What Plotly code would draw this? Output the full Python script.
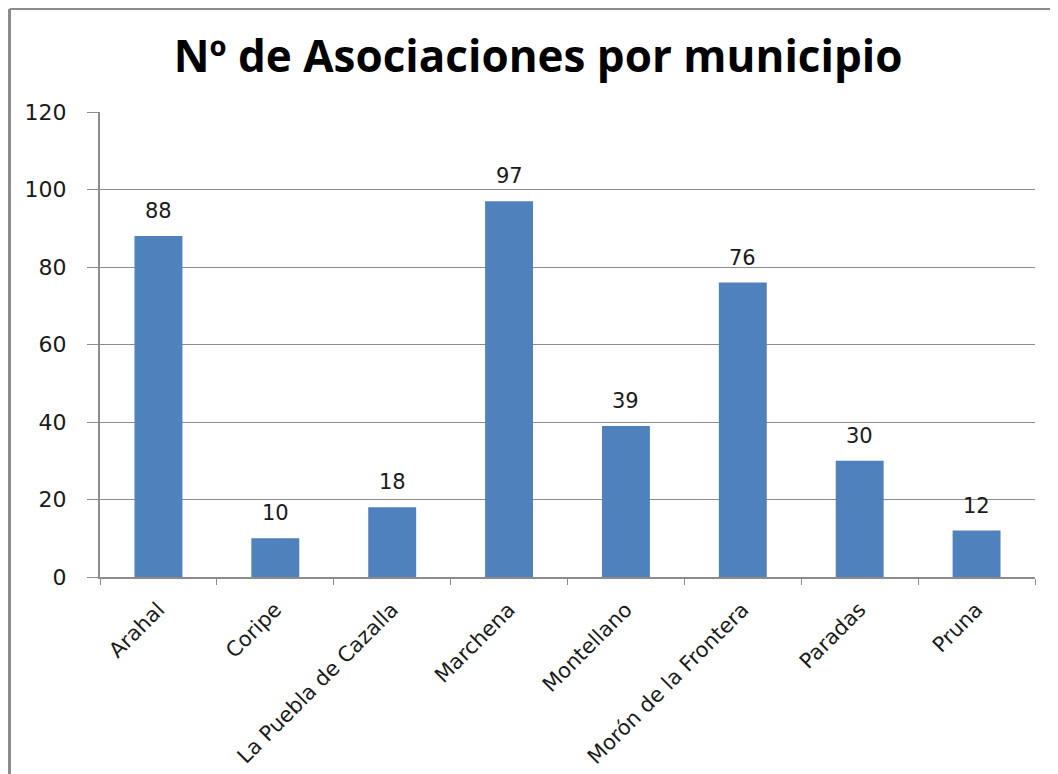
import plotly.graph_objects as go

categories = ["Arahal", "Coripe", "La Puebla de Cazalla", "Marchena", "Montellano",
              "Morón de la Frontera", "Paradas", "Pruna"]
values = [88, 10, 18, 97, 39, 76, 30, 12]
y_ticks = [0, 20, 40, 60, 80, 100, 120]

title_text = "Nº de Asociaciones por municipio"

W, H = 1058, 774
ML, MR, MT, MB = 92, 31, 104, 205
PW, PH = W - ML - MR, H - MT - MB

fig = go.Figure()
fig.add_trace(go.Bar(
    x=categories, y=values,
    marker=dict(color="#4F81BD", line=dict(width=0)),
    hoverinfo="x+y",
))

for c, v in zip(categories, values):
    fig.add_annotation(x=c, y=v, text=str(v), showarrow=False, yshift=25,
                       font=dict(family="DejaVu Sans, sans-serif", size=21, color="#1a1a1a"))

fig.update_layout(
    width=W, height=H,
    paper_bgcolor="white", plot_bgcolor="white",
    margin=dict(l=ML, r=MR, t=MT, b=MB, autoexpand=False),
    bargap=0.59,
    showlegend=False,
    title=dict(text="<b>" + title_text + "</b>", x=0.501, xanchor="center",
               y=0.937, yanchor="middle",
               font=dict(family="Open Sans, sans-serif", size=44, color="black")),
    font=dict(family="DejaVu Sans, sans-serif", size=22, color="#1a1a1a"),
)

fig.update_yaxes(
    range=[0, 120], tickvals=y_ticks, showgrid=True, gridcolor="#8c8c8c", gridwidth=1,
    showline=True, linecolor="#8c8c8c", linewidth=2,
    ticks="outside", ticklen=11, tickcolor="#8c8c8c", tickwidth=1,
    tickfont=dict(size=22), zeroline=False, ticklabelstandoff=16,
)
fig.update_xaxes(
    showline=True, linecolor="#8c8c8c", linewidth=2,
    ticks="outside", ticklen=6, tickcolor="#8c8c8c", tickson="boundaries",
    tickangle=-45, tickfont=dict(size=21), ticklabelstandoff=10,
)

# outer chart frame (left and top edges visible)
fx = -(ML - 1.5) / PW
fy = 1 + (MT - 1) / PH
fig.add_shape(type="line", xref="paper", yref="paper", x0=fx, x1=1 + MR / PW, y0=fy, y1=fy,
              line=dict(color="#8c8c8c", width=2))
fig.add_shape(type="line", xref="paper", yref="paper", x0=fx, x1=fx, y0=-MB / PH, y1=fy,
              line=dict(color="#8c8c8c", width=3))

fig.write_html("out.html")
